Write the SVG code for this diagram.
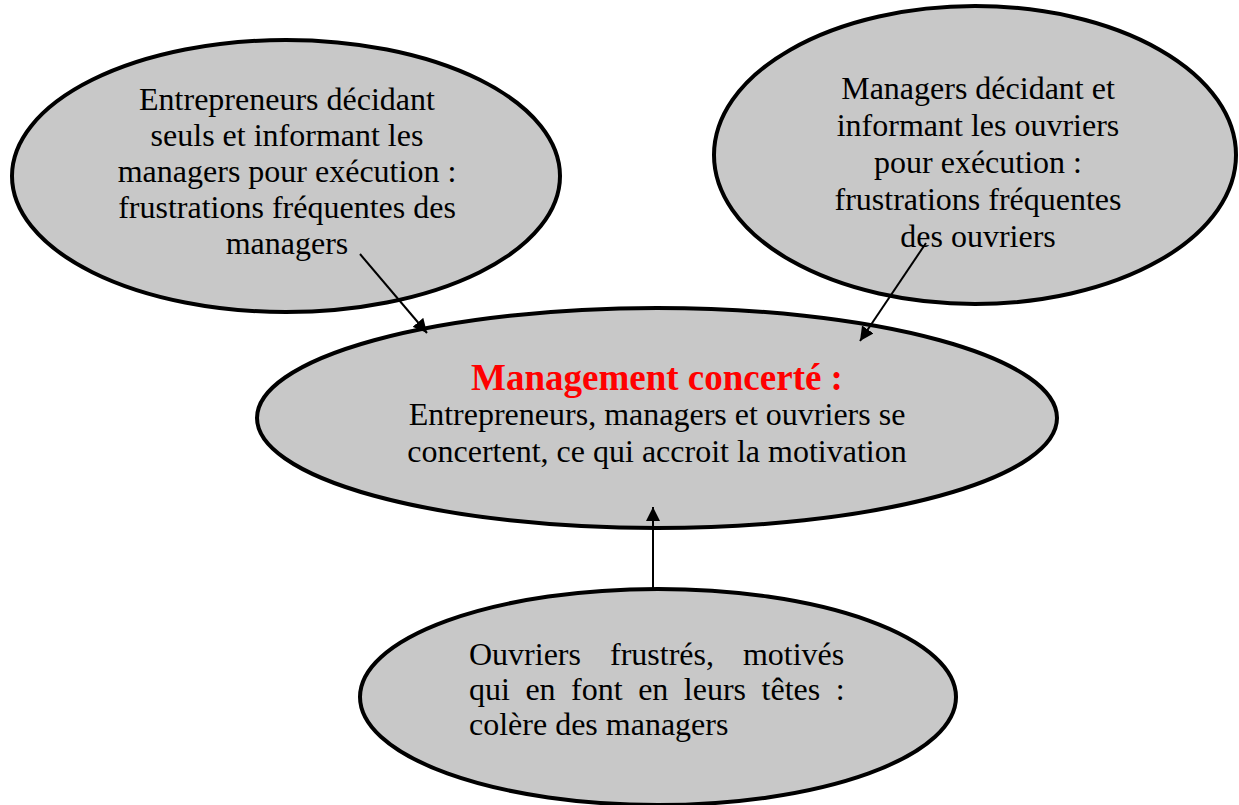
<svg xmlns="http://www.w3.org/2000/svg" width="1239" height="805" viewBox="0 0 1239 805">
<defs>
<style>
.node ellipse{fill:#c8c8c8;stroke:#000;stroke-width:4}
.t{font-family:"Liberation Serif","Times New Roman",serif;font-size:32px;fill:#000}
.c{text-anchor:middle}
.title{font-family:"Liberation Serif","Times New Roman",serif;font-size:37px;font-weight:bold;fill:#ff0000;text-anchor:middle}
.conn line{stroke:#000;stroke-width:2}
</style>
<marker id="ah" viewBox="0 0 10 10" refX="10" refY="5" markerWidth="7" markerHeight="7" orient="auto" markerUnits="strokeWidth">
<path d="M0,0 L10,5 L0,10 z" fill="#000"/>
</marker>
</defs>
<rect width="1239" height="805" fill="#fff"/>
<g id="node-entrepreneurs" class="node">
<ellipse cx="286" cy="176" rx="274" ry="136"/>
<text class="t c" x="287" y="110">Entrepreneurs décidant</text>
<text class="t c" x="287" y="146">seuls et informant les</text>
<text class="t c" x="287" y="182">managers pour exécution :</text>
<text class="t c" x="287" y="218">frustrations fréquentes des</text>
<text class="t c" x="287" y="254">managers</text>
</g>
<g id="node-managers" class="node">
<ellipse cx="975" cy="155" rx="261" ry="149"/>
<text class="t c" x="978" y="99">Managers décidant et</text>
<text class="t c" x="978" y="136">informant les ouvriers</text>
<text class="t c" x="978" y="173">pour exécution :</text>
<text class="t c" x="978" y="210">frustrations fréquentes</text>
<text class="t c" x="978" y="247">des ouvriers</text>
</g>
<g id="node-concerte" class="node">
<ellipse cx="657" cy="418" rx="400" ry="110"/>
<text class="title" x="657" y="390">Management concerté :</text>
<text class="t c" x="657" y="425">Entrepreneurs, managers et ouvriers se</text>
<text class="t c" x="657" y="462">concertent, ce qui accroit la motivation</text>
</g>
<g id="node-ouvriers" class="node">
<ellipse cx="658" cy="697" rx="298" ry="108"/>
<text class="t" x="469" y="665" word-spacing="21">Ouvriers frustrés, motivés</text>
<text class="t" x="469" y="700" word-spacing="7.5">qui en font en leurs têtes :</text>
<text class="t" x="469" y="735">colère des managers</text>
</g>
<g id="connectors" class="conn">
<line x1="360" y1="254" x2="427" y2="333" marker-end="url(#ah)"/>
<line x1="926" y1="243" x2="860" y2="341" marker-end="url(#ah)"/>
<line x1="653" y1="588" x2="653" y2="507" marker-end="url(#ah)"/>
</g>
</svg>
